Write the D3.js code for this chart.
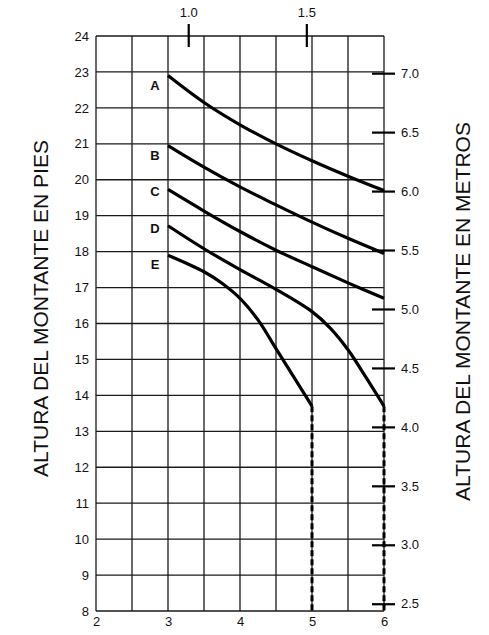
<!DOCTYPE html>
<html>
<head>
<meta charset="utf-8">
<script src="https://cdn.jsdelivr.net/npm/d3@7"></script>
<style>
  body { margin: 0; background: #fff; }
  text { font-family: "Liberation Sans", Arial, sans-serif; fill: #111; }
</style>
</head>
<body>
<div id="chart"></div>
<script>
// axis ticks
const feetTicksY = d3.range(8, 25);
const feetTicksX = [2, 3, 4, 5, 6];
const meterTicksY = [2.5, 3.0, 3.5, 4.0, 4.5, 5.0, 5.5, 6.0, 6.5, 7.0];
const meterTicksX = [1.0, 1.5];

// curves (feet on both axes)
const seriesNames = ["A", "B", "C", "D", "E"];
const seriesX = [
  [3, 3.5, 4, 4.5, 5, 5.5, 6],
  [3, 3.5, 4, 4.5, 5, 5.5, 6],
  [3, 3.5, 4, 4.5, 5, 5.5, 6],
  [3, 3.5, 4, 4.5, 5, 5.25, 5.5, 5.75, 6],
  [3, 3.5, 3.75, 4, 4.25, 4.5, 4.75, 5],
];
const seriesY = [
  [22.9, 22.15, 21.53, 21.0, 20.53, 20.1, 19.7],
  [20.95, 20.35, 19.8, 19.3, 18.82, 18.37, 17.95],
  [19.73, 19.13, 18.56, 18.04, 17.58, 17.13, 16.7],
  [18.72, 18.08, 17.5, 16.95, 16.33, 15.88, 15.27, 14.5, 13.7],
  [17.9, 17.44, 17.12, 16.7, 16.1, 15.3, 14.5, 13.7],
];
const labelX = 2.82;
const labelY = [22.64, 20.67, 19.67, 18.65, 17.66];

// dashed extensions
const dashX = [5, 6];
const dashTop = 13.7;
const dashBottom = 8;

const FT = 0.3048;

const svg = d3.select("#chart")
  .append("svg")
  .attr("width", 489)
  .attr("height", 635);

const pLeft = 96, pRight = 384, pTop = 36, pBottom = 611;

const x = d3.scaleLinear().domain([2, 6]).range([pLeft, pRight]);
const y = d3.scaleLinear().domain([8, 24]).range([pBottom, pTop]);
const xm = d3.scaleLinear().domain([2 * FT, 6 * FT]).range([pLeft, pRight]);
const ym = d3.scaleLinear().domain([8 * FT, 24 * FT]).range([pBottom, pTop]);

// grid
const grid = svg.append("g").attr("stroke", "#1a1a1a").attr("stroke-width", 1.3);
grid.selectAll("line.v")
  .data(d3.range(2, 6.01, 0.5))
  .enter().append("line")
  .attr("x1", (d) => x(d)).attr("x2", (d) => x(d))
  .attr("y1", pTop).attr("y2", pBottom);
grid.selectAll("line.h")
  .data(feetTicksY)
  .enter().append("line")
  .attr("x1", pLeft).attr("x2", pRight)
  .attr("y1", (d) => y(d)).attr("y2", (d) => y(d));

// left axis (feet)
svg.append("g")
  .attr("transform", `translate(${pLeft},0)`)
  .call(d3.axisLeft(y).tickValues(feetTicksY).tickSize(0).tickPadding(7).tickFormat(d3.format("d")))
  .call((g) => g.select(".domain").remove())
  .selectAll("text")
  .style("font-size", "13px");

// bottom axis (feet)
svg.append("g")
  .attr("transform", `translate(0,${pBottom})`)
  .call(d3.axisBottom(x).tickValues(feetTicksX).tickSize(0).tickPadding(6).tickFormat(d3.format("d")))
  .call((g) => g.select(".domain").remove())
  .selectAll("text")
  .style("font-size", "13px");

// right axis (meters)
const rAxis = svg.append("g")
  .attr("transform", `translate(${pRight},0)`)
  .call(d3.axisRight(ym).tickValues(meterTicksY).tickSize(11).tickPadding(6).tickFormat(d3.format(".1f")));
rAxis.select(".domain").remove();
rAxis.selectAll(".tick line").attr("x1", -12).attr("stroke", "#000").attr("stroke-width", 2.2);
rAxis.selectAll("text").style("font-size", "13px");

// top axis (meters)
const tAxis = svg.append("g")
  .attr("transform", `translate(0,${pTop})`)
  .call(d3.axisTop(xm).tickValues(meterTicksX).tickSize(12).tickPadding(7).tickFormat(d3.format(".1f")));
tAxis.select(".domain").remove();
tAxis.selectAll(".tick line").attr("y1", 11).attr("stroke", "#000").attr("stroke-width", 2.2);
tAxis.selectAll("text").style("font-size", "13px");

// curves
const line = d3.line()
  .x((d) => x(d[0]))
  .y((d) => y(d[1]))
  .curve(d3.curveCatmullRom.alpha(0.5));

seriesNames.forEach((name, i) => {
  const pts = seriesX[i].map((v, j) => [v, seriesY[i][j]]);
  svg.append("path")
    .datum(pts)
    .attr("d", line)
    .attr("fill", "none")
    .attr("stroke", "#000")
    .attr("stroke-width", 3.2);

  svg.append("text")
    .attr("x", x(labelX))
    .attr("y", y(labelY[i]))
    .attr("dy", "0.36em")
    .attr("text-anchor", "middle")
    .style("font-size", "13px")
    .style("font-weight", "bold")
    .text(name);
});

// dashed drops
svg.selectAll("line.dash")
  .data(dashX)
  .enter().append("line")
  .attr("x1", (d) => x(d)).attr("x2", (d) => x(d))
  .attr("y1", y(dashTop)).attr("y2", y(dashBottom))
  .attr("stroke", "#000")
  .attr("stroke-width", 3)
  .attr("stroke-dasharray", "6,3");

// axis titles
svg.append("text")
  .attr("transform", `translate(40,${(pTop + pBottom) / 2 - 15}) rotate(-90)`)
  .attr("text-anchor", "middle")
  .attr("dy", "0.36em")
  .style("font-size", "21px")
  .text("ALTURA DEL MONTANTE EN PIES");

svg.append("text")
  .attr("transform", `translate(462,${(pTop + pBottom) / 2 - 12}) rotate(-90)`)
  .attr("text-anchor", "middle")
  .attr("dy", "0.36em")
  .style("font-size", "21px")
  .text("ALTURA DEL MONTANTE EN METROS");
</script>
</body>
</html>
